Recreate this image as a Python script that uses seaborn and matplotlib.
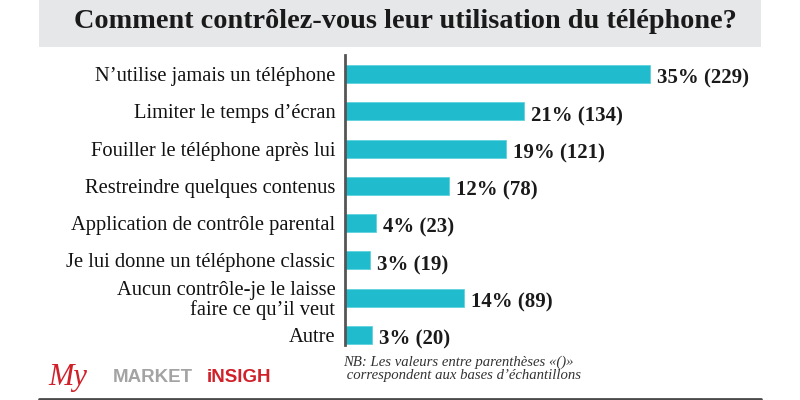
import matplotlib
matplotlib.use("Agg")
import matplotlib.pyplot as plt
import seaborn as sns
import pandas as pd
from matplotlib.patches import Rectangle
from matplotlib.lines import Line2D

categories = [
    "N\u2019utilise jamais un téléphone",
    "Limiter le temps d\u2019écran",
    "Fouiller le téléphone après lui",
    "Restreindre quelques contenus",
    "Application de contrôle parental",
    "Je lui donne un téléphone classic",
    "Aucun contrôle-je le laisse\nfaire ce qu\u2019il veut",
    "Autre",
]
percents = [35, 21, 19, 12, 4, 3, 14, 3]
counts = [229, 134, 121, 78, 23, 19, 89, 20]

title = "Comment contrôlez-vous leur utilisation du téléphone?"
note = "NB: Les valeurs entre parenthèses «()»\n correspondent aux bases d\u2019échantillons"

sns.set_theme(style="white")
plt.rcParams["font.family"] = ["Liberation Serif", "DejaVu Serif"]

W, H = 800, 400
fig = plt.figure(figsize=(8, 4), dpi=100)
fig.patch.set_facecolor("white")

# title band
fig.add_artist(Rectangle((39 / W, 1 - 47 / H), (761 - 39) / W, 47 / H,
                         transform=fig.transFigure, facecolor="#e6e7e9",
                         edgecolor="none", zorder=0))
fig.text(405 / W, 1 - 28 / H, title, ha="center", va="baseline",
         fontsize=20.3, fontweight="bold", color="#1a1a1a")

# bottom rule
fig.add_artist(Line2D([39 / W, 761 / W], [1 - 398.5 / H] * 2,
                      transform=fig.transFigure, color="#4a4a4a", lw=2))

ax = fig.add_axes([345 / W, 1 - 345 / H, 400 / W, 290 / H])
df = pd.DataFrame({"cat": categories, "n": counts})
sns.barplot(data=df, x="n", y="cat", orient="h", color="#20bccd",
            saturation=1, width=0.48, ax=ax, edgecolor="#5fd3df", linewidth=0.6)

ax.set_xlim(0, 300)
ax.set_ylim(7.27, -0.51)
ax.set_xlabel("")
ax.set_ylabel("")
ax.set_xticks([])
for s in ["top", "right", "bottom"]:
    ax.spines[s].set_visible(False)
ax.spines["left"].set_color("#555555")
ax.spines["left"].set_linewidth(2)
ax.tick_params(axis="y", length=0, pad=7, labelsize=14.8, labelcolor="#111111")
for lab in ax.get_yticklabels():
    lab.set_fontfamily(["Liberation Serif", "DejaVu Serif"])
    lab.set_linespacing(1.05)

labels = [f"{p}% ({c})" for p, c in zip(percents, counts)]
anns = ax.bar_label(ax.containers[0], labels=labels, padding=5, fontsize=15,
                    fontweight="bold", color="#1a1a1a",
                    fontfamily=["Liberation Serif", "DejaVu Serif"])
for t in anns:
    t.xyann = (5, -3.5)

# note
fig.text(343 / W, 1 - 356 / H, note, ha="left", va="top", fontsize=10.6,
         style="italic", color="#333333", linespacing=0.95)

# logo
fig.text(48 / W, 1 - 377 / H, "My", ha="left", va="center", fontsize=22,
         style="italic", color="#d0202a", fontfamily=["Liberation Serif"])
fig.text(113 / W, 1 - 377 / H, "MARKET", ha="left", va="center", fontsize=13.5,
         fontweight="bold", color="#a3a3a3", fontfamily=["Liberation Sans"])
fig.text(207 / W, 1 - 377 / H, "iNSIGH", ha="left", va="center", fontsize=13.5,
         fontweight="bold", color="#d0202a", fontfamily=["Liberation Sans"])

fig.savefig("out.png", dpi=100, facecolor="white")
